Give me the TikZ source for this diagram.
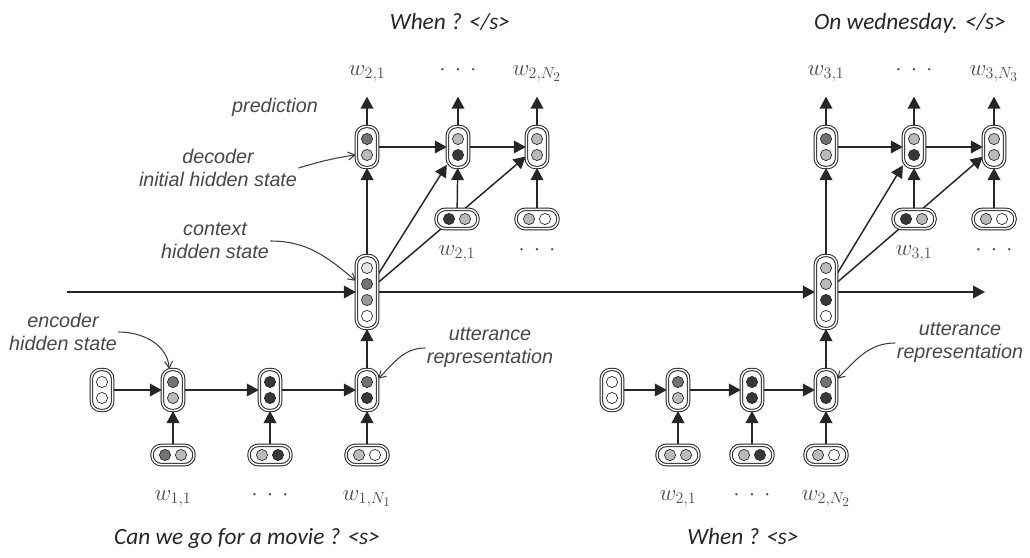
\documentclass[tikz,border=0pt]{standalone}
\usepackage{fontspec}
\setsansfont{Liberation Sans}
\newfontfamily\capfont{Carlito}
\usetikzlibrary{positioning,calc,arrows.meta,shadows,backgrounds}

\colorlet{lite}{black!27}
\colorlet{mid}{black!55}
\colorlet{dark}{black!78}

% a cell of units: stacked (vcell) or side by side (hcell)
\newcommand{\vcell}[3]{%
  \foreach \f [count=\n] in {#3} {\xdef\nunits{\n}}%
  \node[vbox, minimum height={(\nunits*16+9)*0.75pt}] (#1) at (#2) {};
  \foreach \f [count=\i] in {#3}
    \node[unit, fill=\f] at ($(#1)+(0,{(\i-(\nunits+1)/2)*16})$) {};
}
\newcommand{\hcell}[3]{%
  \node[hbox] (#1) at (#2) {};
  \foreach \f [count=\i] in {#3}
    \node[unit, fill=\f] at ($(#1)+({(\i-1.5)*16},0)$) {};
}

\begin{document}
\begin{tikzpicture}[
    x=0.75pt, y=-0.75pt,
    >={Triangle[length=9pt,width=9.5pt]},
    vbox/.style={draw=black!85, line width=0.75pt, double=white, double distance=1.1pt, fill=white,
        rounded corners=7pt, minimum width=16pt, inner sep=0pt,
        drop shadow={shadow xshift=0.8pt, shadow yshift=-1pt, opacity=0.4}},
    hbox/.style={vbox, minimum width=31.5pt, minimum height=14.5pt},
    unit/.style={circle, draw=black!85, line width=0.5pt, minimum size=8.4pt, inner sep=0pt},
    link/.style={draw=black!85, line width=1.1pt, ->},
    note/.style={draw=black!75, line width=0.8pt, -{Straight Barb[length=5pt,width=6pt]}},
    tag/.style={font=\sffamily\itshape\fontsize{14.8}{17.3}\selectfont, text=black!72, align=center, inner sep=1pt},
    word/.style={font=\fontsize{17.28}{20}\selectfont, text=black!70, inner sep=1pt, text height=8pt, text depth=3pt},
    caption/.style={font=\capfont\itshape\fontsize{17.5}{20}\selectfont, text=black!85}
]
\useasboundingbox (0,0) rectangle (1030,557);

% first utterance
\vcell{s1}{102,390}{white,white}
\vcell{e11}{173,390}{mid,lite}
\vcell{e12}{270,390}{dark,dark}
\vcell{e13}{367,390}{mid,dark}
\hcell{i11}{173,455}{mid,lite}
\hcell{i12}{270,455}{lite,dark}
\hcell{i13}{367,455}{lite,white}
\node[word, below=17pt of i11] (w11) {$w_{1,1}$};
\node[word, below=17pt of i12] (w12) {${\cdot}\mkern7mu{\cdot}\mkern7mu{\cdot}$};
\node[word, below=17pt of i13] (w13) {$w_{1,N_1}$};

% second utterance
\vcell{s2}{612,390}{white,white}
\vcell{e21}{678,390}{mid,lite}
\vcell{e22}{752,390}{dark,dark}
\vcell{e23}{826,390}{mid,dark}
\hcell{i21}{678,455}{lite,lite}
\hcell{i22}{752,455}{lite,dark}
\hcell{i23}{826,455}{lite,white}
\node[word, below=17pt of i21] (w21) {$w_{2,1}$};
\node[word, below=17pt of i22] (w22) {${\cdot}\mkern7mu{\cdot}\mkern7mu{\cdot}$};
\node[word, below=17pt of i23] (w23) {$w_{2,N_2}$};

% context
\vcell{c1}{367,292}{black!10,mid,black!40,white}
\vcell{c2}{826,292}{lite,lite,dark,white}
\coordinate (start) at (67,292);
\coordinate (stop) at (985,292);

% first decoder
\vcell{d11}{367,147}{mid,lite}
\vcell{d12}{458,147}{lite,dark}
\vcell{d13}{537,147}{lite,lite}
\hcell{j12}{457,219}{dark,lite}
\hcell{j13}{537,219}{lite,white}
\node[word, below=10.5pt of j12] (x12) {$w_{2,1}$};
\node[word, below=10.5pt of j13] (x13) {${\cdot}\mkern7mu{\cdot}\mkern7mu{\cdot}$};
\node[word, above=34pt of d11] (o11) {$w_{2,1}$};
\node[word, above=34pt of d12] (o12) {${\cdot}\mkern7mu{\cdot}\mkern7mu{\cdot}$};
\node[word, above=34pt of d13] (o13) {$w_{2,N_2}$};

% second decoder
\vcell{d21}{826,147}{mid,lite}
\vcell{d22}{914,147}{lite,dark}
\vcell{d23}{994,147}{lite,lite}
\hcell{j22}{914,219}{dark,lite}
\hcell{j23}{994,219}{lite,white}
\node[word, below=10.5pt of j22] (x22) {$w_{3,1}$};
\node[word, below=10.5pt of j23] (x23) {${\cdot}\mkern7mu{\cdot}\mkern7mu{\cdot}$};
\node[word, above=34pt of d21] (o21) {$w_{3,1}$};
\node[word, above=34pt of d22] (o22) {${\cdot}\mkern7mu{\cdot}\mkern7mu{\cdot}$};
\node[word, above=34pt of d23] (o23) {$w_{3,N_3}$};

% notes
\node[tag] (tpred) at (275,107) {prediction};
\node[tag] (tdec) at (218,168) {decoder\\initial hidden state};
\node[tag] (tctx) at (215,241) {context\\hidden state};
\node[tag] (tenc) at (63,332) {encoder\\hidden state};
\node[tag] (tutt1) at (490,348) {utterance\\representation};
\node[tag] (tutt2) at (960,343) {utterance\\representation};

% sentences
\node[caption] (q1) at (247,538) {Can we go for a movie ? <s>};
\node[caption] (a1) at (450,22) {When ? </s>};
\node[caption] (q2) at (743,536) {When ? <s>};
\node[caption] (a2) at (910,23) {On wednesday. </s>};

\begin{pgfonlayer}{background}
\draw[link] (start) -- (c1);
\draw[link] (c1) -- (c2);
\draw[link] (c2) -- (stop);
\draw[link] (s1) -- (e11);
\draw[link] (e11) -- (e12);
\draw[link] (e12) -- (e13);
\draw[link] (s2) -- (e21);
\draw[link] (e21) -- (e22);
\draw[link] (e22) -- (e23);
\foreach \k in {1,2,3} {
  \draw[link] (i1\k) -- (e1\k);
  \draw[link] (i2\k) -- (e2\k);
}
\draw[link] (e13) -- (c1);
\draw[link] (e23) -- (c2);
\draw[link] (c1) -- (d11);
\draw[link] (c1) -- (d12);
\draw[link] (c1) -- (d13);
\draw[link] (c2) -- (d21);
\draw[link] (c2) -- (d22);
\draw[link] (c2) -- (d23);
\draw[link] (d11) -- (d12);
\draw[link] (d12) -- (d13);
\draw[link] (d21) -- (d22);
\draw[link] (d22) -- (d23);
\draw[link] (j12) -- (d12);
\draw[link] (j13) -- (d13);
\draw[link] (j22) -- (d22);
\draw[link] (j23) -- (d23);
\foreach \k in {1,2,3} {
  \draw[link, shorten >=12pt] (d1\k) -- (o1\k);
  \draw[link, shorten >=12pt] (d2\k) -- (o2\k);
}
\draw[note] (tdec.east) to[bend left=4] (d11.215);
\draw[note] (tctx.east) to[out=0,in=140] (c1.135);
\draw[note] (tenc.east) to[out=0,in=95] (e11.100);
\draw[note] (tutt1.west) to[out=180,in=45] (e13.45);
\draw[note] (tutt2.west) to[out=180,in=45] (e23.45);
\end{pgfonlayer}
\end{tikzpicture}
\end{document}
